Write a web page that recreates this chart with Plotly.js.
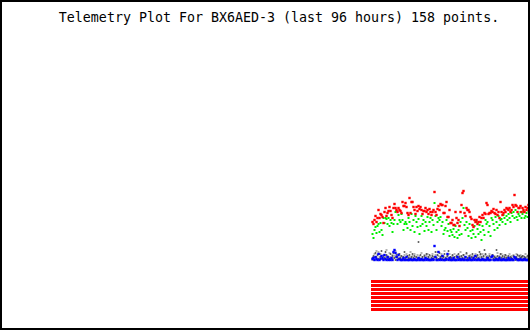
<!DOCTYPE html>
<html>
<head>
<meta charset="utf-8">
<script src="https://cdn.plot.ly/plotly-3.0.1.min.js"></script>
<style>
html,body{margin:0;padding:0;background:#fff;}
#plot{width:530px;height:330px;}
</style>
</head>
<body>
<div id="plot"></div>
<script>
const titleText = "Telemetry Plot For BX6AED-3 (last 96 hours) 158 points.";

// Analog channels (plot units), one value per packet
const ch1Red = [
108,106,110,114,108,112,120,112,116,115,
113,107,118,122,114,117,119,123,119,115,
112,122,126,122,120,118,122,120,119,117,
128,124,124,127,123,117,115,132,117,128,
128,123,120,116,123,119,124,121,123,120,
116,119,119,122,118,120,116,121,118,115,
118,120,138,118,115,121,124,120,126,125,
125,117,117,124,128,113,113,120,107,107,
110,105,105,118,112,107,110,104,118,125,
137,139,117,114,122,120,120,118,113,111,
105,103,110,108,110,106,108,113,108,112,
115,112,117,116,127,125,116,117,117,119,
118,121,117,116,120,115,118,112,128,118,
115,117,120,118,122,121,120,122,118,120,
125,123,135,125,124,118,122,122,124,118,
122,120,118,123,120,122,125,120];

const ch2Green = [
96,92,100,103,97,104,106,98,107,100,
95,112,107,112,111,106,112,104,110,107,
98,106,110,118,119,106,115,110,108,116,
110,100,106,108,106,102,112,108,100,116,
104,110,98,114,108,103,111,96,104,114,
106,110,99,108,104,113,100,108,112,98,
110,105,127,114,100,108,112,110,113,104,
108,96,100,102,110,99,106,94,100,98,
95,101,93,104,98,92,100,95,108,96,
112,122,105,100,108,102,94,106,99,92,
100,96,104,93,108,101,96,105,98,90,
104,100,95,110,106,108,98,104,94,112,
110,106,100,113,108,102,114,105,110,111,
108,115,112,106,114,110,116,112,108,117,
114,118,112,120,113,110,116,114,118,112,
116,118,112,114,117,113,119,116];

const ch3Gray = [
70,73,76,72,79,71,78,73,76,74,
72,75,71,73,80,74,72,77,73,71,
75,72,74,79,73,71,76,72,74,70,
73,71,75,72,76,74,71,73,78,72,
74,71,76,73,70,75,72,74,71,77,
73,71,75,72,74,76,73,71,74,72,
76,73,71,75,72,78,74,71,73,76,
72,74,79,71,73,75,72,76,73,71,
74,72,76,71,73,75,72,74,78,73,
71,75,73,72,76,71,74,73,75,72,
74,71,73,76,72,74,71,73,75,72,
76,73,71,75,72,74,73,76,71,73,
75,72,74,71,73,77,72,74,71,76,
73,71,75,72,74,73,71,76,72,74,
71,75,73,72,76,71,74,72,75,73,
72,74,71,76,73,72,75,73];

const ch4Black = [
72,74,70,77,73,75,71,76,73,79,
71,74,72,78,75,71,73,70,76,72,
74,77,72,70,75,73,71,76,72,74,
71,73,78,72,70,74,72,75,71,73,
76,72,74,70,73,71,88,72,75,71,
73,70,74,72,76,71,73,75,70,72,
74,71,73,78,72,75,71,77,73,74,
71,73,76,72,70,74,79,71,73,72,
75,71,73,70,74,72,76,73,71,74,
72,75,71,73,77,72,70,74,71,73,
76,72,74,71,73,75,72,78,76,73,
71,74,80,76,73,71,72,74,70,73,
75,71,73,72,80,74,71,73,76,72,
74,71,73,75,72,70,74,71,73,72,
71,74,72,70,73,75,71,74,72,73,
74,71,73,72,70,74,72,73];

const ch5Blue = [
71,72,70,73,71,70,76,70,71,74,
72,70,75,71,70,73,70,71,70,72,
70,78,80,77,73,70,75,71,70,70,
70,72,70,70,73,70,70,70,71,70,
70,70,71,70,70,70,72,70,70,71,
70,70,70,72,70,71,70,70,70,70,
71,70,84,73,70,70,78,70,71,70,
74,70,70,70,71,76,70,72,70,70,
70,72,70,70,70,73,70,71,70,70,
71,70,70,73,70,70,70,72,70,70,
70,72,70,74,70,70,71,70,70,70,
71,70,70,70,70,72,70,70,70,73,
74,70,70,70,71,70,70,72,70,70,
70,71,70,70,70,70,72,70,70,71,
70,70,73,72,71,70,70,70,71,70,
70,70,71,70,70,70,70,70];

// Digital bits byte per packet (all 8 bits set)
const bitsByte = [
255,255,255,255,255,255,255,255,255,255,
255,255,255,255,255,255,255,255,255,255,
255,255,255,255,255,255,255,255,255,255,
255,255,255,255,255,255,255,255,255,255,
255,255,255,255,255,255,255,255,255,255,
255,255,255,255,255,255,255,255,255,255,
255,255,255,255,255,255,255,255,255,255,
255,255,255,255,255,255,255,255,255,255,
255,255,255,255,255,255,255,255,255,255,
255,255,255,255,255,255,255,255,255,255,
255,255,255,255,255,255,255,255,255,255,
255,255,255,255,255,255,255,255,255,255,
255,255,255,255,255,255,255,255,255,255,
255,255,255,255,255,255,255,255,255,255,
255,255,255,255,255,255,255,255,255,255,
255,255,255,255,255,255,255,255];

// Drawing configuration (not data)
const bitBase = 48.5, bitStep = 4;

const idx = ch1Red.map((_, i) => i);

function pts(y, color, size) {
  return {x: idx, y: y, type: 'scatter', mode: 'markers',
    marker: {symbol: 'square', size: size, color: color, line: {width: 0}},
    hoverinfo: 'skip', showlegend: false};
}

const traces = [];
for (let b = 0; b < 8; b++) {
  const ys = bitsByte.map(v => ((v >> b) & 1) ? bitBase - b * bitStep : null);
  traces.push(pts(ys, '#ff0000', 3));
}
traces.push(pts(ch3Gray, '#b4b4b4', 2));
traces.push(pts(ch4Black, '#404040', 1.6));
traces.push(pts(ch5Blue, '#0000ff', 2.4));
traces.push(pts(ch2Green, '#00ee00', 2));
traces.push(pts(ch1Red, '#ff0000', 2.4));

const layout = {
  width: 530, height: 330,
  margin: {l: 0, r: 0, t: 0, b: 0, pad: 0},
  paper_bgcolor: '#ffffff', plot_bgcolor: '#ffffff',
  showlegend: false,
  title: {text: titleText, x: 279/530, xanchor: 'center', xref: 'paper',
          y: 1 - 17/330, yanchor: 'middle', yref: 'container',
          font: {family: 'DejaVu Sans Mono, monospace', size: 13.3, color: '#000'}},
  xaxis: {range: [-372.5, 157.5], visible: false, fixedrange: true},
  yaxis: {range: [0, 330], visible: false, fixedrange: true},
  shapes: [{type: 'rect', xref: 'paper', yref: 'paper',
    x0: 1/530, x1: 529/530, y0: 1/330, y1: 329/330,
    line: {color: '#000', width: 2}}]
};

Plotly.newPlot('plot', traces, layout, {displayModeBar: false, staticPlot: true});
</script>
</body>
</html>
